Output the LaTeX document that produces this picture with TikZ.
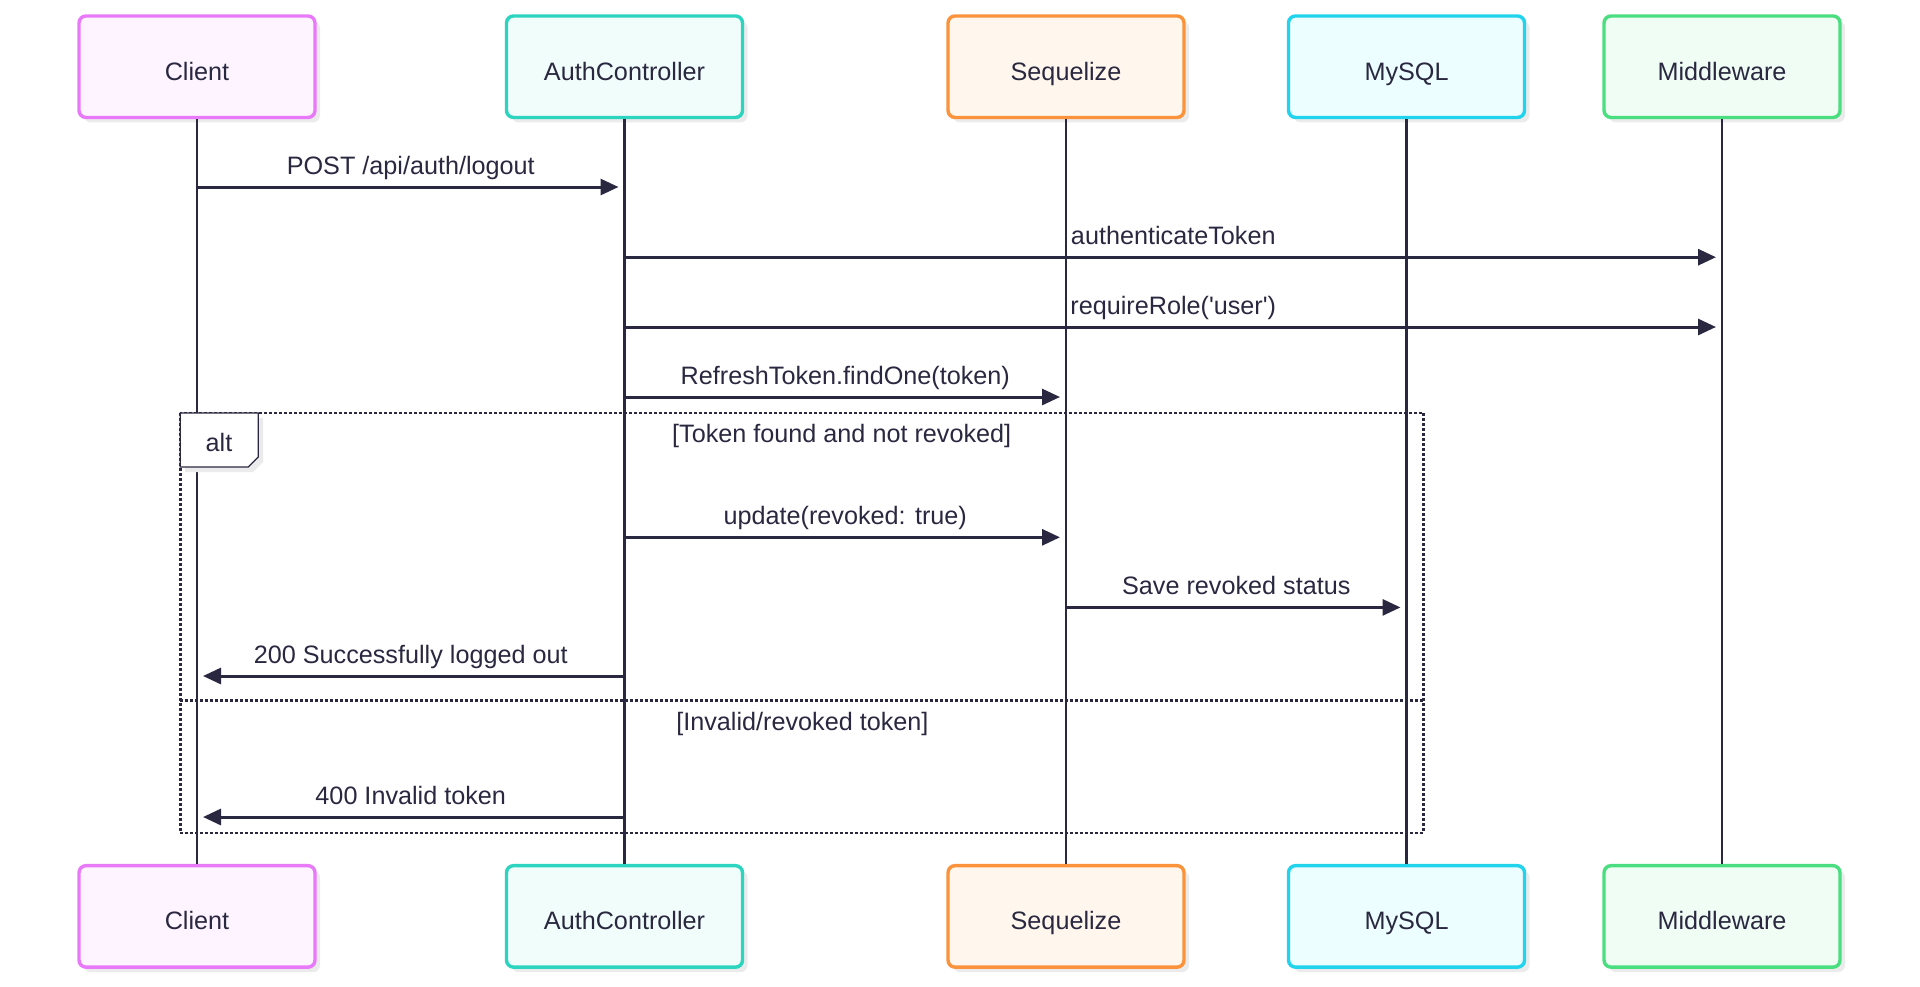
\documentclass[tikz,border=0pt]{standalone}
\usepackage{fontspec}
\setmainfont{Liberation Sans}[Ligatures=TeXOff]
\usetikzlibrary{arrows.meta,shadows}

\definecolor{ink}{HTML}{2A2840}
\definecolor{clientLine}{HTML}{E879F9}
\definecolor{clientFill}{HTML}{FDF4FF}
\definecolor{authLine}{HTML}{2DD4BF}
\definecolor{authFill}{HTML}{F0FDFA}
\definecolor{seqLine}{HTML}{FB923C}
\definecolor{seqFill}{HTML}{FFF7ED}
\definecolor{sqlLine}{HTML}{22D3EE}
\definecolor{sqlFill}{HTML}{ECFEFF}
\definecolor{midLine}{HTML}{4ADE80}
\definecolor{midFill}{HTML}{F0FDF4}

\tikzset{
    softshadow/.style={drop shadow={shadow xshift=2.5pt, shadow yshift=-2.5pt, fill=black!8, opacity=1}},
    actor/.style={draw, rounded corners=3.5pt, line width=1.7pt, minimum width=118pt, minimum height=50.75pt,
        softshadow, text=ink, font=\fontsize{12.6}{15}\selectfont, text height=13.5pt, text depth=0pt},
    lbl/.style={text=ink, font=\fontsize{12.6}{15}\selectfont, inner sep=0pt, text height=9pt, text depth=2.5pt},
    lifeline/.style={ink, line width=1.2pt},
    msg/.style={ink, line width=1.5pt, -{Triangle[length=9pt,width=8pt]}, shorten >=3pt},
    frame/.style={ink, line width=1.3pt, dash pattern=on 1.3pt off 1.2pt}
}

\begin{document}
\begin{tikzpicture}[x=0.5pt, y=-0.5pt]
        \useasboundingbox (0,0) rectangle (1920,986);

        % Participants (top row)
        \node[actor, draw=clientLine, fill=clientFill] (client) at (197,66.7) {Client};
        \node[actor, draw=authLine, fill=authFill] (auth) at (624.5,66.7) {AuthController};
        \node[actor, draw=seqLine, fill=seqFill] (seq) at (1066,66.7) {Sequelize};
        \node[actor, draw=sqlLine, fill=sqlFill] (sql) at (1406.5,66.7) {MySQL};
        \node[actor, draw=midLine, fill=midFill] (mid) at (1722,66.7) {Middleware};

        % Participants (bottom row)
        \node[actor, draw=clientLine, fill=clientFill] (clientB) at (197,916.4) {Client};
        \node[actor, draw=authLine, fill=authFill] (authB) at (624.5,916.4) {AuthController};
        \node[actor, draw=seqLine, fill=seqFill] (seqB) at (1066,916.4) {Sequelize};
        \node[actor, draw=sqlLine, fill=sqlFill] (sqlB) at (1406.5,916.4) {MySQL};
        \node[actor, draw=midLine, fill=midFill] (midB) at (1722,916.4) {Middleware};

        % Lifelines
        \draw[lifeline] (client.south) -- (clientB.north);
        \draw[lifeline] (auth.south) -- (authB.north);
        \draw[lifeline] (seq.south) -- (seqB.north);
        \draw[lifeline] (sql.south) -- (sqlB.north);
        \draw[lifeline] (mid.south) -- (midB.north);

        % Message rows
        \coordinate (m1) at (0,187);
        \coordinate (m2) at (0,257.2);
        \coordinate (m3) at (0,327);
        \coordinate (m4) at (0,397);
        \coordinate (m5) at (0,537.3);
        \coordinate (m6) at (0,607.4);
        \coordinate (m7) at (0,676);
        \coordinate (m8) at (0,817);

        % alt frame with its two branches
        \coordinate (altNW) at (180.2,413);
        \coordinate (altSE) at (1423.6,832.8);
        \coordinate (altDiv) at (0,700.5);
        \draw[frame] (altNW) rectangle (altSE);
        \draw[frame] (altNW |- altDiv) -- (altSE |- altDiv);
        \draw[ink, line width=0.6pt, fill=white, softshadow] (altNW) -- ++(78,0) -- ++(0,44) -- ++(-10,10) -- ++(-68,0) -- cycle;
        \node[lbl] (altTag) at (219,445) {alt};
        \node[lbl] (guard1) at (841.7,436) {[Token found and not revoked]};
        \node[lbl] (guard2) at (802.4,723.7) {[Invalid/revoked token]};

        % Messages
        \draw[msg] (client |- m1) -- node[lbl, above=3pt] {POST /api/auth/logout} (auth |- m1);
        \draw[msg] (auth |- m2) -- node[lbl, above=3pt] {authenticateToken} (mid |- m2);
        \draw[msg] (auth |- m3) -- node[lbl, above=3pt] {requireRole('user')} (mid |- m3);
        \draw[msg] (auth |- m4) -- node[lbl, above=3pt] {RefreshToken.findOne(token)} (seq |- m4);
        \draw[msg] (auth |- m5) -- node[lbl, above=3pt] {update(revoked: true)} (seq |- m5);
        \draw[msg] (seq |- m6) -- node[lbl, above=3pt] {Save revoked status} (sql |- m6);
        \draw[msg] (auth |- m7) -- node[lbl, above=3pt] {200 Successfully logged out} (client |- m7);
        \draw[msg] (auth |- m8) -- node[lbl, above=3pt] {400 Invalid token} (client |- m8);

\end{tikzpicture}
\end{document}
